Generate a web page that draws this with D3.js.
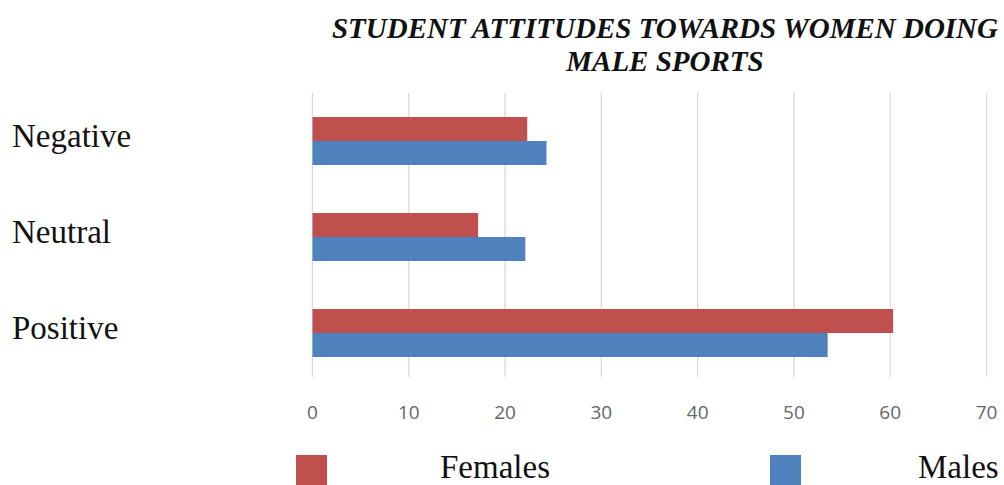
<!DOCTYPE html>
<html lang="en">
<head>
    <meta charset="UTF-8">
    <title>Student Attitudes</title>
    <style>
        body { margin: 0; background: #fff; }
    </style>
</head>
<body>
    <script src="https://d3js.org/d3.v7.min.js"></script>
    <div id="chart"></div>
    <script>
        // data
        const categories = ["Negative", "Neutral", "Positive"];
        const seriesNames = ["Females", "Males"];
        const females = [22.3, 17.2, 60.3];
        const males = [24.3, 22.1, 53.5];
        const xTicks = [0, 10, 20, 30, 40, 50, 60, 70];
        const titleLines = ["STUDENT ATTITUDES TOWARDS WOMEN DOING", "MALE SPORTS"];
        const colors = ["#C0504D", "#4F81BD"];

        const W = 1004, H = 485;
        const plotLeft = 312.5, plotRight = 986.5, plotTop = 93, plotBottom = 381;

        const svg = d3.select("#chart").append("svg")
            .attr("width", W).attr("height", H);

        const x = d3.scaleLinear().domain([0, 70]).range([plotLeft, plotRight]);
        const y = d3.scaleBand().domain(categories).range([plotTop, plotBottom]).paddingInner(0.5).paddingOuter(0.25);
        const ySub = d3.scaleBand().domain(seriesNames).range([0, y.bandwidth()]);

        // title
        svg.append("g")
            .selectAll("text")
            .data(titleLines)
            .join("text")
            .attr("x", 665)
            .attr("y", (d, i) => 38 + i * 33)
            .attr("text-anchor", "middle")
            .style("font", "italic bold 29px 'Liberation Serif', serif")
            .style("fill", "#111")
            .text(d => d);

        // gridlines
        svg.append("g")
            .selectAll("line")
            .data(xTicks)
            .join("line")
            .attr("x1", d => x(d)).attr("x2", d => x(d))
            .attr("y1", plotTop).attr("y2", plotBottom - 4)
            .style("stroke", "#d9d9d9")
            .style("stroke-width", 1.3);

        // x tick labels
        svg.append("g")
            .selectAll("text")
            .data(xTicks)
            .join("text")
            .attr("x", d => x(d))
            .attr("y", 419)
            .attr("text-anchor", "middle")
            .style("font", "19px 'Open Sans', sans-serif")
            .style("fill", "#666")
            .text(d => d);

        // category labels
        svg.append("g")
            .selectAll("text")
            .data(categories)
            .join("text")
            .attr("x", 12)
            .attr("y", d => y(d) + y.bandwidth() / 2 + 6)
            .style("font", "33px 'Liberation Serif', serif")
            .style("fill", "#111")
            .text(d => d);

        // bars
        const values = [females, males];
        seriesNames.forEach((s, si) => {
            svg.append("g")
                .selectAll("rect")
                .data(categories)
                .join("rect")
                .attr("x", x(0))
                .attr("y", d => y(d) + ySub(s))
                .attr("width", (d, i) => x(values[si][i]) - x(0))
                .attr("height", ySub.bandwidth())
                .style("fill", colors[si]);
        });

        // legend
        const legendX = [296, 770];
        const legendTextX = [440, 918];
        const lg = svg.append("g")
            .selectAll("g")
            .data(seriesNames)
            .join("g");
        lg.append("rect")
            .attr("x", (d, i) => legendX[i])
            .attr("y", 455)
            .attr("width", 31).attr("height", 32)
            .style("fill", (d, i) => colors[i]);
        lg.append("text")
            .attr("x", (d, i) => legendTextX[i])
            .attr("y", 478)
            .style("font", "33px 'Liberation Serif', serif")
            .style("fill", "#111")
            .text(d => d);
    </script>
</body>
</html>
